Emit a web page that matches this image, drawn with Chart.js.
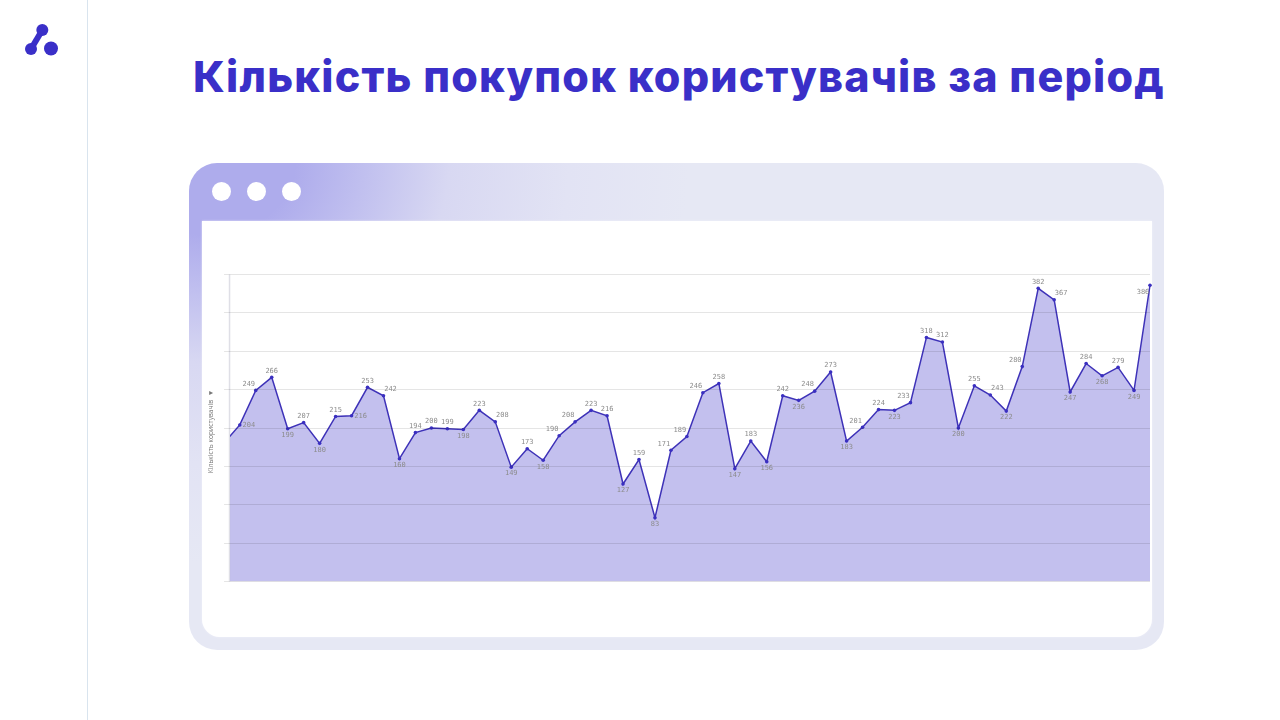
<!DOCTYPE html>
<html lang="uk">
<head>
<meta charset="utf-8">
<title>Кількість покупок користувачів за період</title>
<script src="https://cdn.jsdelivr.net/npm/chart.js@4"></script>
<style>
  html, body { margin: 0; padding: 0; background: #fff; }
  body { width: 1280px; height: 720px; position: relative; overflow: hidden; }
  #rule { position: absolute; left: 87px; top: 0; width: 1px; height: 720px; background: #d9e4ee; }
  #logo { position: absolute; left: 20px; top: 20px; }
  h1 {
    position: absolute; left: 193px; top: 51px; margin: 0;
    font: 800 43px/50px Inter, sans-serif; color: #3a2fc8; white-space: nowrap;
    letter-spacing: 1.2px;
  }
  #frame {
    position: absolute; left: 189px; top: 163px; width: 975px; height: 487px;
    border-radius: 28px;
    background: radial-gradient(ellipse 480px 400px at 20px 0, #aeacec 18%, #c0bfef 32%, #d8d8f2 50%, #e2e3f4 75%, #e6e8f4 100%);
  }
  .dot { position: absolute; top: 18.5px; width: 19px; height: 19px; border-radius: 50%; background: #fff; }
  #panel {
    position: absolute; left: 202px; top: 221px; width: 950px; height: 416px;
    background: #fff; border-radius: 0 0 18px 18px;
    box-shadow: 0 0 2px #f2f2fb;
  }
</style>
</head>
<body>
<div id="rule"></div>
<svg id="logo" width="44" height="40" viewBox="20 20 44 40">
  <line x1="42.3" y1="30" x2="31" y2="49" stroke="#3a2fc8" stroke-width="6"/>
  <circle cx="42.3" cy="30" r="6" fill="#3a2fc8"/>
  <circle cx="31" cy="49" r="6" fill="#3a2fc8"/>
  <circle cx="51" cy="48.5" r="7" fill="#3a2fc8"/>
</svg>
<h1>Кількість покупок користувачів за період</h1>
<div id="frame">
  <div class="dot" style="left:23px"></div>
  <div class="dot" style="left:58px"></div>
  <div class="dot" style="left:92.5px"></div>
</div>
<div id="panel"><canvas id="chart" width="950" height="416"></canvas></div>

<script>
// first value sits left of the axis and is only seen as the clipped line going in
const purchases = [180,
  204, 249, 266, 199, 207, 180, 215, 216, 253, 242,
  160, 194, 200, 199, 198, 223, 208, 149, 173, 158,
  190, 208, 223, 216, 127, 159, 83, 171, 189, 246,
  258, 147, 183, 156, 242, 236, 248, 273, 183, 201,
  224, 223, 233, 318, 312, 200, 255, 243, 222, 280,
  382, 367, 247, 284, 268, 279, 249, 386];
const periods = purchases.map((v, i) => i);

// where each value label goes relative to its point
const labelSides = [null,
  "r", "al", "a", "b", "a", "b", "a", "r", "a", "ar",
  "b", "a", "a", "a", "b", "a", "ar", "b", "a", "b",
  "al", "al", "a", "a", "b", "a", "b", "al", "al", "al",
  "a", "b", "a", "b", "a", "b", "al", "a", "b", "al",
  "a", "b", "al", "a", "a", "b", "a", "ar", "b", "al",
  "a", "ar", "b", "a", "b", "a", "b", "bl"];

const sideOffsets = {
  a: [0, -6.5], b: [0, 6.5], r: [9, 0],
  al: [-7, -6.5], ar: [7, -6.5], bl: [-7, 7]
};

// the y axis rule, drawn under the area fill
const axisRule = {
  id: "axisRule",
  beforeDatasetsDraw(chart) {
    const { ctx, chartArea } = chart;
    ctx.save();
    ctx.strokeStyle = "#dfdfe6";
    ctx.lineWidth = 1.5;
    ctx.beginPath();
    ctx.moveTo(chartArea.left - 0.5, chartArea.top);
    ctx.lineTo(chartArea.left - 0.5, chartArea.bottom);
    ctx.stroke();
    ctx.restore();
  }
};

const valueLabels = {
  id: "valueLabels",
  afterDraw(chart) {
    const ctx = chart.ctx;
    const points = chart.getDatasetMeta(0).data;
    ctx.save();
    ctx.font = "7px 'DejaVu Sans Mono'";
    ctx.fillStyle = "#8c8c8c";
    ctx.textAlign = "center";
    ctx.textBaseline = "middle";
    points.forEach((pt, i) => {
      if (!labelSides[i]) return;
      const off = sideOffsets[labelSides[i]];
      ctx.fillText(String(purchases[i]), pt.x + off[0], pt.y + off[1]);
    });
    ctx.restore();
  }
};

new Chart(document.getElementById("chart"), {
  type: "line",
  data: {
    datasets: [{
      data: periods.map((p, i) => ({ x: p, y: purchases[i] })),
      borderColor: "#3e32b8",
      borderWidth: 1.5,
      backgroundColor: "rgba(56,46,200,0.3)",
      fill: "start",
      tension: 0,
      pointRadius: 1.8,
      pointBackgroundColor: "#3a2fc0",
      pointBorderWidth: 0,
      clip: { left: 0, top: 5, right: 5, bottom: 0 }
    }]
  },
  options: {
    responsive: false,
    animation: false,
    layout: { autoPadding: false, padding: { top: 53.5, bottom: 55.5, right: 2, left: 0 } },
    plugins: { legend: { display: false }, tooltip: { enabled: false } },
    scales: {
      x: { type: "linear", display: false, min: 0.39, max: 58 },
      y: {
        min: 0,
        max: 400,
        ticks: { display: false, stepSize: 50 },
        grid: { color: "rgba(0,0,0,0.1)", tickLength: 6, z: 1 },
        border: { display: false },
        title: {
          display: true,
          text: "Кількість користувачів  ▼    ",
          color: "#777",
          font: { size: 6.7, family: "'Open Sans'" },
          padding: { top: 5, bottom: 9 }
        }
      }
    }
  },
  plugins: [axisRule, valueLabels]
});
</script>
</body>
</html>
